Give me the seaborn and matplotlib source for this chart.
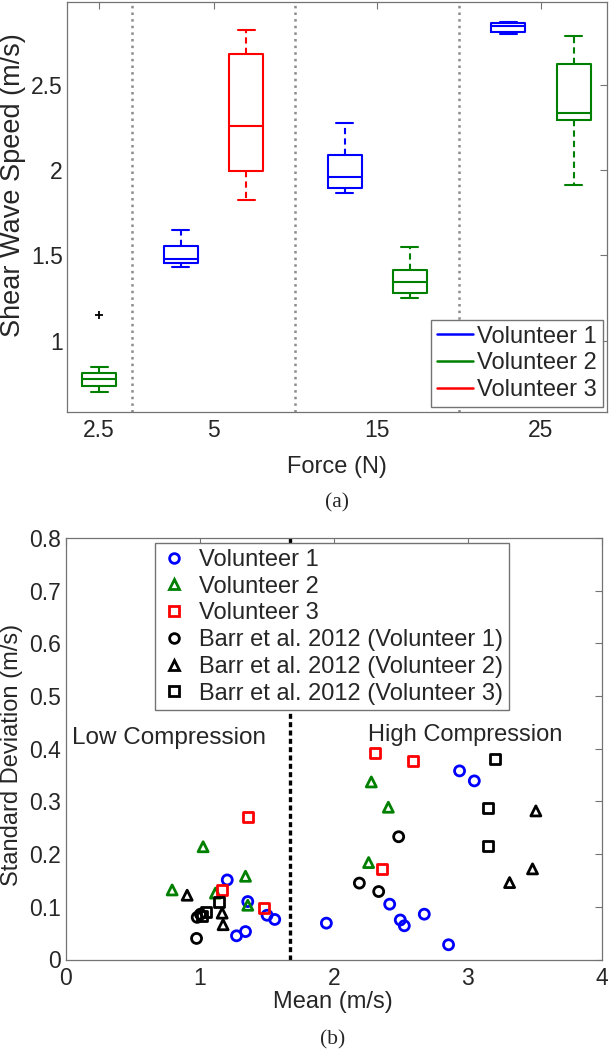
import matplotlib
matplotlib.use("Agg")
import matplotlib.pyplot as plt
from matplotlib.lines import Line2D
import pandas as pd
import seaborn as sns

# ---- (a) shear wave speed by force, one box per volunteer ----
box_force = ["2.5", "5", "5", "15", "15", "25", "25"]
box_volunteer = ["Volunteer 2", "Volunteer 1", "Volunteer 3", "Volunteer 1",
                 "Volunteer 2", "Volunteer 1", "Volunteer 2"]
box_speed = [
    [0.695, 0.730, 0.730, 0.774, 0.774, 0.809, 0.809, 0.842, 1.151],
    [1.430, 1.453, 1.477, 1.555, 1.649],
    [1.828, 1.998, 2.260, 2.687, 2.824],
    [1.869, 1.899, 1.961, 2.092, 2.277],
    [1.252, 1.278, 1.346, 1.412, 1.549],
    [2.804, 2.816, 2.850, 2.867, 2.875],
    [1.912, 2.299, 2.336, 2.627, 2.789],
]
force_labels = ["2.5", "5", "15", "25"]
volunteers = ["Volunteer 1", "Volunteer 2", "Volunteer 3"]

# ---- (b) mean vs standard deviation ----
v1_mean = [1.206, 1.359, 1.503, 1.560, 1.275, 1.342, 1.945, 2.417, 2.496, 2.526, 2.675, 2.856, 2.938, 3.048]
v1_sd = [0.151, 0.110, 0.084, 0.076, 0.045, 0.053, 0.069, 0.105, 0.075, 0.064, 0.086, 0.028, 0.358, 0.339]
v2_mean = [0.795, 1.026, 1.118, 1.342, 1.359, 2.280, 2.407, 2.260]
v2_sd = [0.132, 0.214, 0.126, 0.158, 0.103, 0.337, 0.289, 0.184]
v3_mean = [1.359, 1.168, 1.478, 2.305, 2.588, 2.360]
v3_sd = [0.270, 0.131, 0.097, 0.391, 0.376, 0.171]
barr1_mean = [0.977, 0.982, 1.006, 2.484, 2.191, 2.335]
barr1_sd = [0.040, 0.080, 0.086, 0.233, 0.145, 0.129]
barr2_mean = [0.907, 1.168, 1.175, 3.507, 3.482, 3.311]
barr2_sd = [0.122, 0.088, 0.066, 0.282, 0.172, 0.146]
barr3_mean = [1.044, 1.143, 1.015, 3.204, 3.150, 3.147]
barr3_sd = [0.090, 0.110, 0.082, 0.380, 0.287, 0.216]
series_names = ["Volunteer 1", "Volunteer 2", "Volunteer 3",
                "Barr et al. 2012 (Volunteer 1)", "Barr et al. 2012 (Volunteer 2)",
                "Barr et al. 2012 (Volunteer 3)"]

vol_colors = {"Volunteer 1": "#0000ff", "Volunteer 2": "#008000", "Volunteer 3": "#ff0000"}
series_colors = dict(zip(series_names, ["#0000ff", "#008000", "#ff0000", "black", "black", "black"]))
series_markers = dict(zip(series_names, ["o", "^", "s", "o", "^", "s"]))

sns.set_style("white")
plt.rcParams["font.family"] = ["Liberation Sans", "DejaVu Sans"]
axis_grey = "0.45"

fig = plt.figure(figsize=(6.09, 10.5), dpi=100)
ax1 = fig.add_axes([67 / 609, 1 - 412 / 1050, 540 / 609, 410 / 1050])
ax2 = fig.add_axes([65.5 / 609, 1 - 959.5 / 1050, 536.5 / 609, 421.5 / 1050])

# matlab-style grouped box positions
group_slots = {"2.5": [0.0], "5": [1.25, 2.25], "15": [3.75, 4.75], "25": [6.25, 7.25]}
used = {k: 0 for k in group_slots}
rows = []
for f, v, vals in zip(box_force, box_volunteer, box_speed):
    pos = group_slots[f][used[f]]
    used[f] += 1
    for s in vals:
        rows.append({"pos": pos, "volunteer": v, "speed": s})
df_a = pd.DataFrame(rows)

sns.boxplot(data=df_a, x="pos", y="speed", hue="volunteer", hue_order=volunteers,
            palette=vol_colors, native_scale=True, dodge=False, fill=False,
            width=0.52, linewidth=1.5,
            whiskerprops={"linestyle": (0, (3, 2))},
            flierprops={"marker": "+", "markeredgecolor": "black",
                        "markersize": 6, "markeredgewidth": 1.3},
            legend=False, ax=ax1)

for x in [0.5, 3.0, 5.5]:
    ax1.axvline(x, color="0.55", ls=":", lw=1.8, zorder=1)

ax1.set_xlim(-0.49, 7.76)
ax1.set_ylim(0.58, 2.99)
ax1.set_xticks([sum(group_slots[f]) / len(group_slots[f]) for f in force_labels])
ax1.set_xticklabels(force_labels)
ax1.set_yticks([1, 1.5, 2, 2.5])
ax1.set_yticklabels(["1", "1.5", "2", "2.5"])
ax1.set_xlabel("")
ax1.set_ylabel("")

h1 = [Line2D([], [], color=vol_colors[v], lw=1.8) for v in volunteers]
leg1 = ax1.legend(h1, volunteers, loc="lower right", bbox_to_anchor=(0.9926, 0.012),
                  borderaxespad=0, fontsize=17, handlelength=1.5, handletextpad=0.2,
                  labelspacing=0.2, borderpad=0.25, fancybox=False, framealpha=1)
leg1.get_frame().set_edgecolor(axis_grey)

# ---- scatter ----
means = [v1_mean, v2_mean, v3_mean, barr1_mean, barr2_mean, barr3_mean]
sds = [v1_sd, v2_sd, v3_sd, barr1_sd, barr2_sd, barr3_sd]
df_b = pd.concat([pd.DataFrame({"mean": m, "sd": s, "series": n})
                  for m, s, n in zip(means, sds, series_names)], ignore_index=True)

sns.scatterplot(data=df_b, x="mean", y="sd", hue="series", style="series",
                hue_order=series_names, style_order=series_names,
                palette=series_colors, markers=series_markers, s=52,
                linewidth=2, legend=False, ax=ax2, zorder=3)
pts = ax2.collections[0]
pts.set_edgecolors(pts.get_facecolors())
pts.set_facecolors("none")

ax2.axvline(1.677, color="black", ls=(0, (1.5, 1)), lw=2.4, zorder=2)
ax2.text(0.05, 0.42, "Low Compression", fontsize=17.5, va="center")
ax2.text(2.256, 0.426, "High Compression", fontsize=17, va="center")

ax2.set_xlim(0, 4)
ax2.set_ylim(0, 0.8)
ax2.set_xticks([0, 1, 2, 3, 4])
ax2.set_xticklabels(["0", "1", "2", "3", "4"])
ax2.set_yticks([0, 0.1, 0.2, 0.3, 0.4, 0.5, 0.6, 0.7, 0.8])
ax2.set_yticklabels(["0", "0.1", "0.2", "0.3", "0.4", "0.5", "0.6", "0.7", "0.8"])
ax2.set_xlabel("")
ax2.set_ylabel("")

h2 = [Line2D([], [], ls="", marker=series_markers[n], ms=7, mfc="none", mew=2,
             color=series_colors[n]) for n in series_names]
leg2 = ax2.legend(h2, series_names, loc="upper left", bbox_to_anchor=(0.1668, 0.988),
                  borderaxespad=0, fontsize=17, handlelength=1.1, handletextpad=0.5,
                  labelspacing=0.2, borderpad=0.25, fancybox=False, framealpha=1)
leg2.get_frame().set_edgecolor(axis_grey)

for ax in (ax1, ax2):
    for sp in ax.spines.values():
        sp.set_color(axis_grey)
        sp.set_linewidth(0.9)
    ax.tick_params(direction="in", top=True, right=True, length=5, width=0.8,
                   color=axis_grey, labelsize=16.5)
    ax.tick_params(axis="y", pad=3)
ax1.tick_params(axis="x", pad=5)
ax2.tick_params(axis="x", pad=5.5)

fig.text(337 / 609, 1 - 467 / 1050, "Force (N)", ha="center", va="center", fontsize=17)
fig.text(337 / 609, 1 - 503 / 1050, "(a)", ha="center", va="center", fontsize=15.5,
         family="Liberation Serif")
fig.text(13 / 609, 1 - 185 / 1050, "Shear Wave Speed (m/s)", rotation=90,
         ha="center", va="center", fontsize=19.5)
fig.text(333 / 609, 1 - 1002 / 1050, "Mean (m/s)", ha="center", va="center", fontsize=17)
fig.text(333 / 609, 1 - 1040 / 1050, "(b)", ha="center", va="center", fontsize=15.5,
         family="Liberation Serif")
fig.text(12 / 609, 1 - 755 / 1050, "Standard Deviation (m/s)", rotation=90,
         ha="center", va="center", fontsize=17)

fig.savefig("out.png", dpi=100)
